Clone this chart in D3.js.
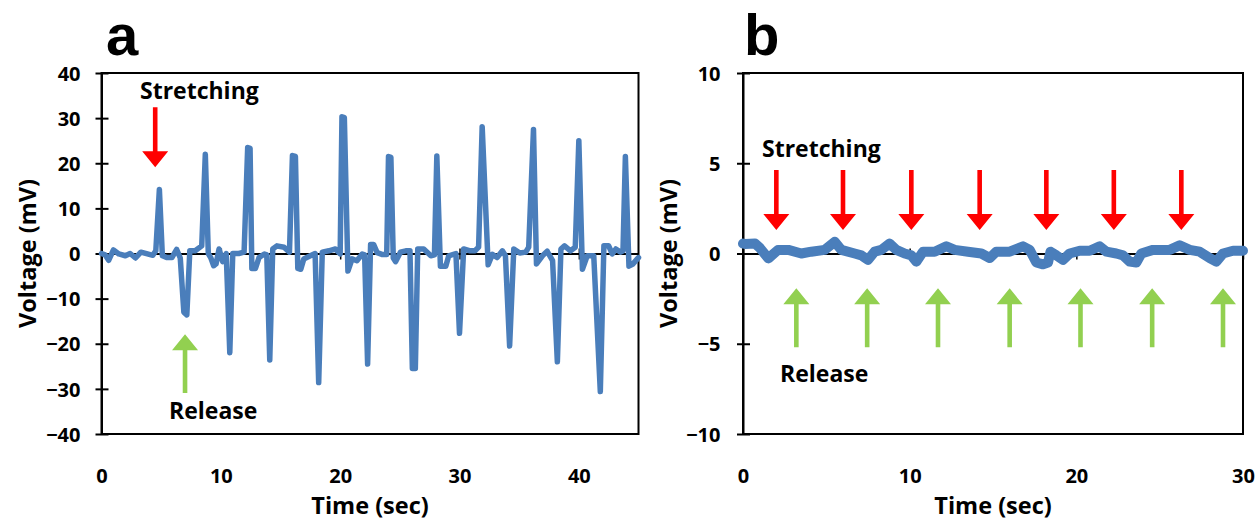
<!DOCTYPE html>
<html>
<head>
<meta charset="utf-8">
<script src="https://cdn.jsdelivr.net/npm/d3@7"></script>
<style>
  html, body { margin: 0; padding: 0; background: #fff; }
  svg { display: block; }
  text { font-family: "Open Sans", Lato, sans-serif; font-weight: bold; fill: #000; }
</style>
</head>
<body>
<svg id="chart" width="1258" height="521"></svg>
<script>
// Panel a: voltage under repeated stretch / release, [time s, voltage mV]
const seriesA = [
  [0.0, 0.0], [0.3, -0.3], [0.6, -1.5], [1.0, 0.8], [1.45, -0.1], [2.0, -0.5],
  [2.4, 0.0], [2.85, -1.0], [3.3, 0.3], [3.85, -0.1], [4.3, -0.4], [4.55, 0.6],
  [4.85, 14.2], [5.1, -0.5], [5.5, -0.9], [5.9, -0.9], [6.3, 0.9], [6.6, -1.0],
  [6.9, -13.0], [7.15, -13.6], [7.4, 0.6], [7.85, 0.6], [8.4, 1.7], [8.7, 22.0],
  [8.95, 0.0], [9.15, -0.9], [9.4, -2.7], [9.6, -2.3], [9.85, 1.0], [10.15, -1.8],
  [10.45, 0.0], [10.75, -22.0], [11.0, 0.0], [11.5, 0.0], [11.95, 0.3], [12.25, 23.5],
  [12.45, 23.3], [12.6, -3.3], [12.9, -3.3], [13.2, -0.9], [13.65, -0.1], [13.85, -0.3],
  [14.1, -23.6], [14.35, 1.0], [14.7, 1.7], [15.3, 1.4], [15.75, 0.3], [16.0, 21.7],
  [16.25, 21.5], [16.45, -3.3], [16.7, -3.5], [16.95, -1.2], [17.5, -0.5], [17.9, 0.0],
  [18.2, -28.6], [18.5, 0.3], [19.05, 0.6], [19.6, 1.0], [20.0, -0.1], [20.15, 30.3],
  [20.35, 30.1], [20.65, -3.9], [21.0, -1.2], [21.4, -1.6], [21.85, -0.1], [22.05, -0.3],
  [22.3, -24.5], [22.55, 2.0], [22.8, 2.0], [23.1, 0.2], [23.5, -0.2], [23.9, -0.2],
  [24.05, 21.5], [24.25, 21.3], [24.45, -1.0], [24.65, -1.8], [25.05, 0.3], [25.5, 0.6],
  [25.85, 0.6], [26.05, -25.5], [26.3, -25.5], [26.5, 1.0], [27.0, 1.0], [27.6, -0.5],
  [27.9, -0.3], [28.1, 21.6], [28.4, -2.8], [28.85, -2.8], [29.1, -0.5], [29.7, 0.0],
  [30.0, -17.7], [30.35, 1.0], [30.9, 0.6], [31.3, 0.6], [31.6, 1.4], [31.9, 28.1],
  [32.4, -2.5], [32.75, -0.2], [33.15, -0.9], [33.6, 0.6], [33.85, -0.5], [34.2, -20.5],
  [34.55, 1.0], [35.05, 0.1], [35.55, 0.3], [35.8, 1.4], [36.2, 27.5], [36.45, -2.3],
  [36.95, -0.5], [37.35, 0.5], [37.8, -1.6], [38.2, -24.0], [38.5, 1.0], [38.8, 1.7],
  [39.3, 0.6], [39.7, 1.4], [40.0, 25.0], [40.3, -3.5], [40.7, -0.5], [41.25, -0.5],
  [41.8, -30.6], [42.1, 1.7], [42.5, 1.7], [42.8, -0.1], [43.1, 1.0], [43.5, 0.3],
  [43.7, 0.6], [43.9, 21.5], [44.2, -2.8], [44.5, -2.4], [44.9, -1.2], [45.0, -0.9]
];

// Panel b: control measurement, [time s, voltage mV]
const seriesB = [
  [0.0, 0.55], [0.12, 0.53], [0.72, 0.55], [1.02, 0.3], [1.52, -0.27], [2.1, 0.2],
  [2.72, 0.2], [3.5, 0.0], [4.1, 0.1], [4.9, 0.2], [5.5, 0.65], [5.9, 0.2],
  [6.7, 0.0], [7.1, -0.1], [7.5, -0.35], [7.9, 0.1], [8.3, 0.2], [8.8, 0.55],
  [9.2, 0.2], [9.7, 0.0], [10.1, -0.1], [10.4, -0.45], [10.8, 0.1], [11.5, 0.1],
  [12.2, 0.4], [12.7, 0.2], [13.5, 0.1], [14.3, 0.0], [14.8, -0.25], [15.2, 0.1],
  [16.0, 0.1], [16.8, 0.4], [17.2, 0.2], [17.6, -0.5], [18.0, -0.6], [18.3, -0.5],
  [18.45, 0.1], [18.8, -0.1], [19.2, -0.35], [19.6, 0.0], [20.2, 0.15], [20.8, 0.15],
  [21.4, 0.4], [21.8, 0.1], [22.4, 0.0], [22.8, -0.1], [23.2, -0.45], [23.6, -0.5],
  [23.9, 0.0], [24.6, 0.2], [25.6, 0.2], [26.2, 0.45], [26.8, 0.2], [27.4, 0.1],
  [28.0, -0.25], [28.4, -0.45], [28.8, 0.0], [29.4, 0.15], [30.0, 0.15]
];

// Tick values
const xTicksA = [0, 10, 20, 30, 40];
const yTicksA = [40, 30, 20, 10, 0, -10, -20, -30, -40];
const xTicksB = [0, 10, 20, 30];
const yTicksB = [10, 5, 0, -5, -10];

// Event markers: stretch (down arrows) and release (up arrows), in seconds
const stretchA = [4.5];
const releaseA = [7.0];
const stretchB = [2.0, 6.0, 10.1, 14.2, 18.2, 22.25, 26.3];
const releaseB = [3.2, 7.45, 11.7, 16.0, 20.25, 24.55, 28.8];

const svg = d3.select("#chart");
const BLUE = "#4a7ebb", RED = "#ff0000", GREEN = "#92d050";
const FONT = "'Open Sans', Lato, sans-serif";

function arrow(g, x, yTail, yTip, color, shaftW, headW, headL) {
  const dir = yTip > yTail ? 1 : -1;
  const yBase = yTip - dir * headL;
  const p = d3.path();
  p.moveTo(x - shaftW / 2, yTail);
  p.lineTo(x + shaftW / 2, yTail);
  p.lineTo(x + shaftW / 2, yBase);
  p.lineTo(x + headW / 2, yBase);
  p.lineTo(x, yTip);
  p.lineTo(x - headW / 2, yBase);
  p.lineTo(x - shaftW / 2, yBase);
  p.closePath();
  g.append("path").attr("d", p.toString()).attr("fill", color);
}

function panel(opt) {
  const x = d3.scaleLinear().domain(opt.xDomain).range([opt.left, opt.right]);
  const y = d3.scaleLinear().domain(opt.yDomain).range([opt.bottom, opt.top]);
  const g = svg.append("g");

  // plot frame
  g.append("rect")
    .attr("x", opt.left).attr("y", opt.top)
    .attr("width", opt.right - opt.left).attr("height", opt.bottom - opt.top)
    .attr("fill", "none").attr("stroke", "#000").attr("stroke-width", 2);

  // vertical axis with crossing ticks
  const ya = g.append("g").attr("transform", `translate(${opt.left},0)`)
    .call(d3.axisLeft(y).tickValues(opt.yTicks).tickSizeOuter(0).tickPadding(0));
  ya.select(".domain").attr("stroke", "#000").attr("stroke-width", 2);
  ya.selectAll(".tick line").attr("x1", -6).attr("x2", 7).attr("stroke", "#000").attr("stroke-width", 2);
  ya.selectAll(".tick text")
    .attr("x", -opt.yLabelGap).attr("dy", "0.36em")
    .style("font-family", FONT).style("font-weight", "bold")
    .style("font-size", "20px").attr("fill", "#000");

  // horizontal axis along zero, labels below the plot
  const y0 = y(0);
  const xa = g.append("g").attr("transform", `translate(0,${y0})`)
    .call(d3.axisBottom(x).tickValues(opt.xTicks).tickSizeOuter(0).tickPadding(0));
  xa.select(".domain").attr("stroke", "#000").attr("stroke-width", 2);
  xa.selectAll(".tick line").attr("y1", -5).attr("y2", 6).attr("stroke", "#000").attr("stroke-width", 1.5);
  xa.selectAll(".tick text")
    .attr("y", 482.5 - y0).attr("dy", 0)
    .style("font-family", FONT).style("font-weight", "bold")
    .style("font-size", "20px").attr("fill", "#000");

  // signal trace
  const line = d3.line().x(d => x(d[0])).y(d => y(d[1]));
  g.append("path").datum(opt.data)
    .attr("d", line)
    .attr("fill", "none").attr("stroke", BLUE)
    .attr("stroke-width", opt.lineW)
    .attr("stroke-linejoin", "round").attr("stroke-linecap", "round");

  // event arrows
  opt.stretch.forEach(t => arrow(g, x(t), y(opt.stretchV[0]), y(opt.stretchV[1]), RED, 4.6, 26, 16));
  opt.release.forEach(t => arrow(g, x(t), y(opt.releaseV[0]), y(opt.releaseV[1]), GREEN, 4.6, 26, 16));

  // annotations
  g.append("text").attr("x", opt.stretchLabel[0]).attr("y", opt.stretchLabel[1])
    .style("font-size", "23px").text("Stretching");
  g.append("text").attr("x", opt.releaseLabel[0]).attr("y", opt.releaseLabel[1])
    .style("font-size", "23px").text("Release");

  // axis titles
  g.append("text").attr("x", (opt.left + opt.right) / 2).attr("y", 514)
    .attr("text-anchor", "middle").style("font-size", "23.5px").text("Time (sec)");
  g.append("text")
    .attr("transform", `translate(${opt.left - 66},${(opt.top + opt.bottom) / 2}) rotate(-90)`)
    .attr("text-anchor", "middle").style("font-size", "23.5px").text("Voltage (mV)");

  // panel letter
  g.append("text").attr("x", opt.letterX).attr("y", 55)
    .style("font-family", "'Liberation Sans', Arial, sans-serif")
    .style("font-size", "58px").text(opt.letter);
}

panel({
  letter: "a", letterX: 106,
  left: 101.5, right: 638.5, top: 73, bottom: 434,
  xDomain: [0, 45], yDomain: [-40, 40],
  xTicks: xTicksA, yTicks: yTicksA, yLabelGap: 21,
  data: seriesA, lineW: 5.5,
  stretch: stretchA, stretchV: [32.4, 19.1],
  release: releaseA, releaseV: [-30.9, -17.9],
  stretchLabel: [140, 99], releaseLabel: [169, 419]
});

panel({
  letter: "b", letterX: 744,
  left: 743, right: 1243, top: 73, bottom: 434,
  xDomain: [0, 30], yDomain: [-10, 10],
  xTicks: xTicksB, yTicks: yTicksB, yLabelGap: 22.5,
  data: seriesB, lineW: 10,
  stretch: stretchB, stretchV: [4.63, 1.3],
  release: releaseB, releaseV: [-5.2, -1.93],
  stretchLabel: [762, 156.5], releaseLabel: [780, 382]
});
</script>
</body>
</html>
